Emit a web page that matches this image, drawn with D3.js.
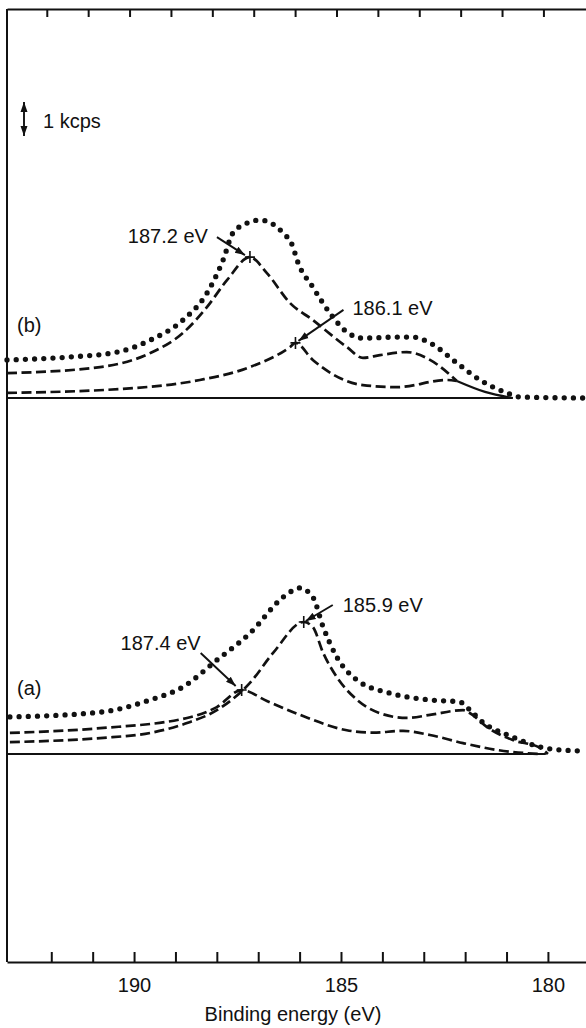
<!DOCTYPE html>
<html>
<head>
<meta charset="utf-8">
<script src="https://cdn.jsdelivr.net/npm/d3@7/dist/d3.min.js"></script>
<style>
  body { margin: 0; background: #fff; }
  svg text { font-family: "Liberation Sans", Arial, Helvetica, sans-serif; font-size: 20px; fill: #111; }
</style>
</head>
<body>
<div class="chart"></div>
<script>

const svgWidth = 586;
const svgHeight = 1028;

// [binding energy (eV), counts above the spectrum's own baseline (kcps)]

// spectrum (b)
const measuredB = [
    [193.07, 1.12], [191.62, 1.20], [190.41, 1.35], [189.61, 1.70], [188.82, 2.29],
    [188.24, 3.08], [187.85, 4.05], [187.61, 4.85], [187.20, 5.17], [186.96, 5.23],
    [186.40, 4.85], [186.16, 4.44], [186.06, 4.05], [185.68, 3.26], [185.27, 2.50],
    [184.86, 1.94], [184.47, 1.76], [183.65, 1.79], [183.26, 1.79], [182.85, 1.62],
    [182.20, 1.03], [181.64, 0.53], [180.99, 0.15], [180.68, 0.03], [179.08, 0.00]
];
const peak1872 = [
    [193.07, 0.73], [190.82, 0.91], [189.61, 1.32], [188.82, 1.91], [188.24, 2.67],
    [187.75, 3.47], [187.20, 4.14], [186.79, 3.67], [186.23, 2.79], [185.68, 2.29],
    [184.86, 1.50], [184.47, 1.18], [184.06, 1.26], [183.41, 1.35], [182.85, 1.12],
    [182.20, 0.50]
];
const peak1861 = [
    [193.07, 0.15], [190.02, 0.29], [188.41, 0.53], [187.20, 0.91], [186.23, 1.50],
    [186.10, 1.62], [185.68, 1.12], [184.47, 0.38], [183.65, 0.32], [182.44, 0.53],
    [182.20, 0.50]
];
const tailB = [[182.20, 0.50], [181.52, 0.18], [180.85, 0.00]];
const baseB = [[193.07, 0], [180.85, 0]];

// spectrum (a)
const measuredA = [
    [193.00, 1.09], [190.82, 1.23], [189.61, 1.59], [188.82, 1.97], [188.00, 2.76],
    [187.20, 3.55], [186.40, 4.61], [186.23, 4.76], [186.00, 4.88], [185.68, 4.61],
    [185.43, 3.73], [185.10, 2.85], [184.61, 2.17], [183.82, 1.79], [182.85, 1.59],
    [182.13, 1.53], [181.88, 1.29], [181.64, 1.00], [180.85, 0.50], [180.19, 0.21],
    [179.71, 0.12], [179.08, 0.09]
];
const peak1874 = [
    [193.00, 0.62], [190.82, 0.76], [188.72, 1.06], [188.00, 1.38], [187.40, 1.88],
    [186.79, 1.56], [185.99, 1.15], [184.86, 0.70], [184.23, 0.63], [183.50, 0.68],
    [182.85, 0.56], [182.05, 0.32], [181.23, 0.12], [180.85, 0.06], [180.19, 0.00]
];
const peak1859 = [
    [193.00, 0.35], [190.82, 0.47], [189.61, 0.62], [188.72, 0.91], [188.00, 1.29],
    [187.20, 2.09], [186.64, 2.97], [185.90, 3.88], [185.68, 3.73], [185.43, 2.97],
    [185.10, 2.26], [184.61, 1.59], [184.06, 1.20], [183.41, 1.06], [182.85, 1.15],
    [182.05, 1.29], [181.88, 1.20], [181.47, 0.79], [180.85, 0.41], [180.19, 0.18],
    [180.00, 0.00]
];
const baseA = [[193.07, 0], [180.05, 0]];

// spectrum offsets (kcps) and labels
const offsetB = 16.57;
const offsetA = 6.11;
const peakLabels = ["187.2 eV", "186.1 eV", "187.4 eV", "185.9 eV"];
const tickValues = d3.range(192, 179, -1);
const tickLabels = [190, 185, 180];

const svg = d3.select(".chart")
    .append("svg")
    .attr("width", svgWidth)
    .attr("height", svgHeight);

const x = d3.scaleLinear()
    .domain([193.07, 179.08])
    .range([7, 586]);

const y = d3.scaleLinear()
    .domain([0, 28])
    .range([962, 9]);

function lineFor(offset) {
    return d3.line()
        .x(d => x(d[0]))
        .y(d => y(d[1] + offset))
        .curve(d3.curveMonotoneX);
}

// frame + axes
const bottomAxis = d3.axisBottom(x)
    .tickValues(tickValues)
    .tickSizeInner(-10)
    .tickSizeOuter(0)
    .tickPadding(16)
    .tickFormat(d => tickLabels.includes(d) ? d : "");

const xAxis = svg.append("g")
    .attr("transform", `translate(0, ${y(0)})`)
    .call(bottomAxis);

const topAxis = d3.axisTop(x)
    .tickValues(tickValues)
    .tickSizeInner(-8)
    .tickSizeOuter(0)
    .tickFormat("");

svg.append("g")
    .attr("transform", `translate(-4.5, ${y(28)})`)
    .call(topAxis)
    .select(".domain").attr("transform", "translate(4.5,0)");

svg.selectAll(".domain, .tick line")
    .attr("stroke", "#111")
    .attr("stroke-width", 2);

xAxis.selectAll("text")
    .attr("fill", "#111")
    .style("font-size", "20px")
    .style("font-family", "'Liberation Sans', Arial, sans-serif");

svg.append("line")
    .attr("x1", x(193.07)).attr("x2", x(193.07))
    .attr("y1", y(28)).attr("y2", y(0))
    .attr("stroke", "#111")
    .attr("stroke-width", 2);

svg.append("text")
    .attr("x", svgWidth / 2)
    .attr("y", 1021)
    .attr("text-anchor", "middle")
    .text("Binding energy (eV)");

// spectra
function drawSpectrum(measured, comps, base, tail, offset) {
    const line = lineFor(offset);

    svg.append("path")
        .datum(base)
        .attr("d", line.curve(d3.curveLinear))
        .attr("fill", "none")
        .attr("stroke", "#111")
        .attr("stroke-width", 2);
    line.curve(d3.curveMonotoneX);

    if (tail) {
        svg.append("path")
            .datum(tail)
            .attr("d", line)
            .attr("fill", "none")
            .attr("stroke", "#111")
            .attr("stroke-width", 2.2);
    }

    comps.forEach(c => {
        svg.append("path")
            .datum(c)
            .attr("d", line)
            .attr("fill", "none")
            .attr("stroke", "#111")
            .attr("stroke-width", 2.7)
            .attr("stroke-dasharray", "10 4.5");
    });

    svg.append("path")
        .datum(measured)
        .attr("d", line)
        .attr("fill", "none")
        .attr("stroke", "#111")
        .attr("stroke-width", 5.3)
        .attr("stroke-linecap", "round")
        .attr("stroke-dasharray", "0 9.2");
}

drawSpectrum(measuredB, [peak1872, peak1861], baseB, tailB, offsetB);
drawSpectrum(measuredA, [peak1874, peak1859], baseA, null, offsetA);

// arrowhead
svg.append("defs").append("marker")
    .attr("id", "head")
    .attr("viewBox", "0 0 10 10")
    .attr("refX", 10).attr("refY", 5)
    .attr("markerWidth", 10).attr("markerHeight", 10)
    .attr("markerUnits", "userSpaceOnUse")
    .attr("orient", "auto-start-reverse")
    .append("path")
    .attr("d", "M0,1.5 L10,5 L0,8.5 Z")
    .attr("fill", "#111");

// peak markers: [component, offset, label, text dx, dy, anchor, arrow start dx, dy, arrow end dx, dy]
const marks = [
    [peak1872, offsetB, peakLabels[0], -42, -14, "end", -33, -20, -5, -2],
    [peak1861, offsetB, peakLabels[1], 57, -28, "start", 48, -33, 3, -2],
    [peak1874, offsetA, peakLabels[2], -41, -40, "end", -41, -37, -6, -4],
    [peak1859, offsetA, peakLabels[3], 39, -10, "start", 29, -17, 2, -1]
];

marks.forEach(m => {
    const pk = m[0].reduce((a, b) => (b[1] > a[1] ? b : a));
    const cx = x(pk[0]);
    const cy = y(pk[1] + m[1]);

    svg.append("path")
        .attr("d", `M${cx - 5},${cy}H${cx + 5}M${cx},${cy - 6}V${cy + 6}`)
        .attr("stroke", "#111")
        .attr("stroke-width", 1.6);

    svg.append("line")
        .attr("x1", cx + m[6]).attr("y1", cy + m[7])
        .attr("x2", cx + m[8]).attr("y2", cy + m[9])
        .attr("stroke", "#111")
        .attr("stroke-width", 1.9)
        .attr("marker-end", "url(#head)");

    svg.append("text")
        .attr("x", cx + m[3])
        .attr("y", cy + m[4])
        .attr("text-anchor", m[5])
        .text(m[2]);
});

// spectrum labels
svg.append("text").attr("x", 17).attr("y", y(offsetB) - 66).text("(b)");
svg.append("text").attr("x", 17).attr("y", y(offsetA) - 59).text("(a)");

// 1 kcps scale bar
svg.append("line")
    .attr("x1", 24).attr("x2", 24)
    .attr("y1", y(24.27)).attr("y2", y(25.27))
    .attr("stroke", "#111")
    .attr("stroke-width", 1.9)
    .attr("marker-start", "url(#head)")
    .attr("marker-end", "url(#head)");

svg.append("text")
    .attr("x", 43)
    .attr("y", 128)
    .text("1 kcps");

</script>
</body>
</html>
